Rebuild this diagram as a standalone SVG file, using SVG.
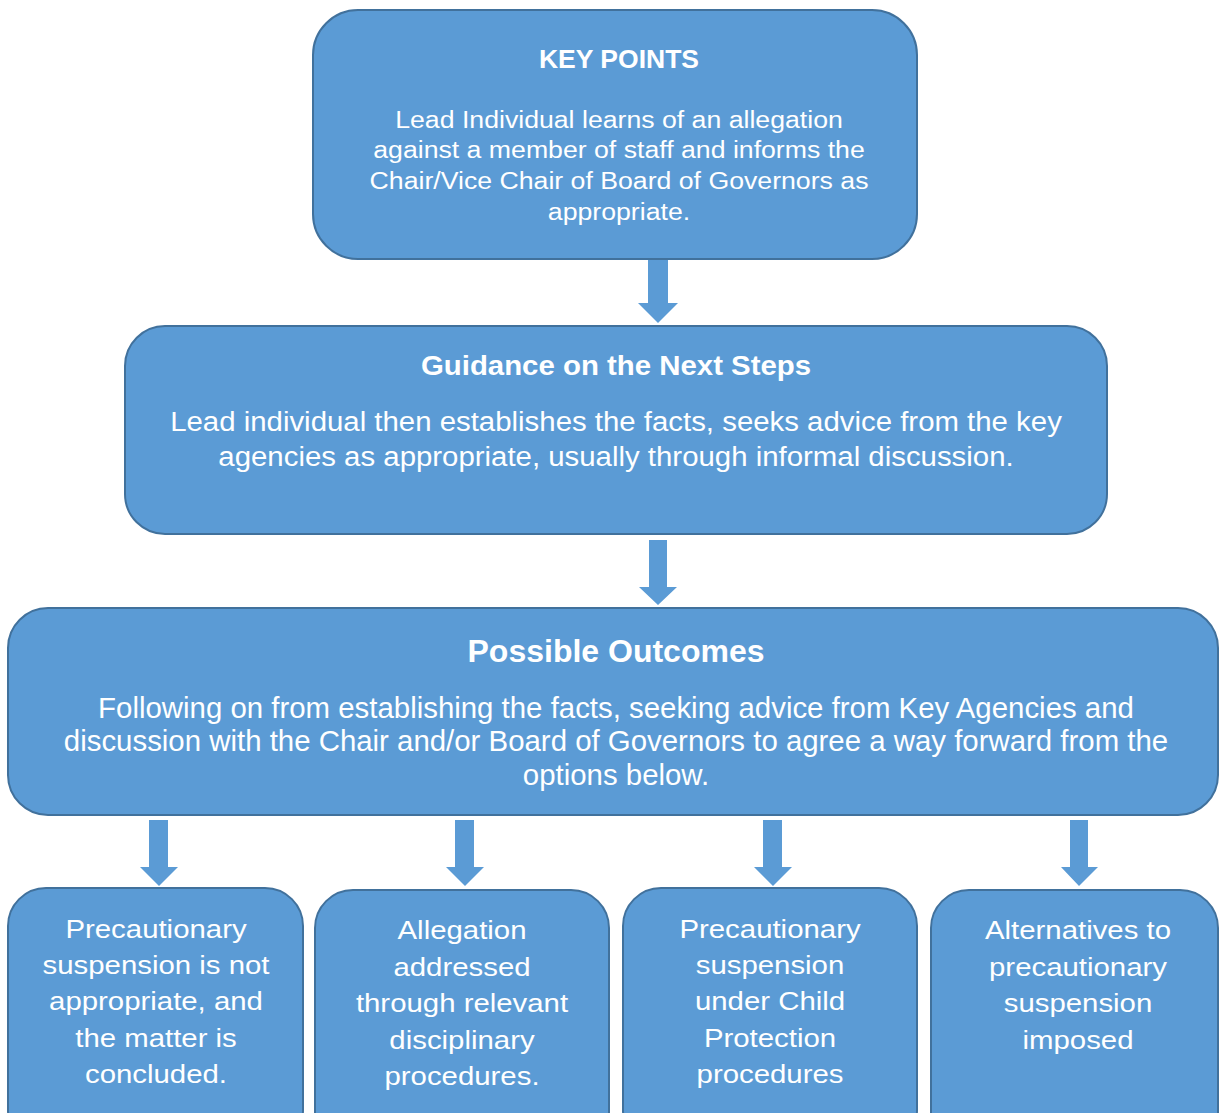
<svg xmlns="http://www.w3.org/2000/svg" width="1219" height="1113" viewBox="0 0 1219 1113">
<style>
.box{fill:#5B9BD5;stroke:#41719C;stroke-width:2}
.arr{fill:#5B9BD5}
text{font-family:"Liberation Sans",Arial,sans-serif;fill:#fff;text-anchor:middle}
.kp{font-size:23px}
.g{font-size:28px}
.o{font-size:29.4px}
.s{font-size:25px}
.b{font-weight:bold}
</style>
<rect width="1219" height="1113" fill="#fff"/>
<g id="connectors">
<polygon class="arr" points="648,259 668,259 668,303 678,303 658,323 638,303 648,303"/>
<polygon class="arr" points="649,540 667,540 667,587 677,587 658,605 639,587 649,587"/>
<polygon class="arr" points="149,820 168,820 168,867 178,867 159,886 140,867 149,867"/>
<polygon class="arr" points="455,820 474,820 474,867 484,867 465,886 446,867 455,867"/>
<polygon class="arr" points="763,820 782,820 782,867 792,867 773,886 754,867 763,867"/>
<polygon class="arr" points="1070,820 1088,820 1088,867 1098,867 1079,886 1061,867 1070,867"/>
</g>
<g id="keypoints">
<rect class="box" x="313" y="10" width="604" height="249" rx="45"/>
<text class="b" style="font-size:26.5px" x="619" y="68">KEY POINTS</text>
<g transform="translate(619 0) scale(1.16 1)">
<text class="kp" x="0" y="128">Lead Individual learns of an allegation</text>
<text class="kp" x="0" y="158">against a member of staff and informs the</text>
<text class="kp" x="0" y="189">Chair/Vice Chair of Board of Governors as</text>
<text class="kp" x="0" y="220">appropriate.</text>
</g>
</g>
<g id="guidance">
<rect class="box" x="125" y="326" width="982" height="208" rx="40"/>
<g transform="translate(616 0) scale(1.05 1)">
<text class="g b" x="0" y="375">Guidance on the Next Steps</text>
<text class="g" x="0" y="431">Lead individual then establishes the facts, seeks advice from the key</text>
<text class="g" x="0" y="466">agencies as appropriate, usually through informal discussion.</text>
</g>
</g>
<g id="outcomes">
<rect class="box" x="8" y="608" width="1210" height="207" rx="40"/>
<text class="b" style="font-size:32px" x="616" y="662">Possible Outcomes</text>
<text class="o" x="616" y="718">Following on from establishing the facts, seeking advice from Key Agencies and</text>
<text class="o" x="616" y="751">discussion with the Chair and/or Board of Governors to agree a way forward from the</text>
<text class="o" x="616" y="785">options below.</text>
</g>
<g id="option1">
<rect class="box" x="8" y="888" width="295" height="260" rx="38"/>
<g transform="translate(156 0) scale(1.175 1)">
<text class="s" x="0" y="938">Precautionary</text>
<text class="s" x="0" y="974">suspension is not</text>
<text class="s" x="0" y="1010">appropriate, and</text>
<text class="s" x="0" y="1047">the matter is</text>
<text class="s" x="0" y="1083">concluded.</text>
</g>
</g>
<g id="option2">
<rect class="box" x="315" y="890" width="294" height="260" rx="38"/>
<g transform="translate(462 0) scale(1.175 1)">
<text class="s" x="0" y="939">Allegation</text>
<text class="s" x="0" y="976">addressed</text>
<text class="s" x="0" y="1012">through relevant</text>
<text class="s" x="0" y="1049">disciplinary</text>
<text class="s" x="0" y="1085">procedures.</text>
</g>
</g>
<g id="option3">
<rect class="box" x="623" y="888" width="294" height="260" rx="38"/>
<g transform="translate(770 0) scale(1.175 1)">
<text class="s" x="0" y="938">Precautionary</text>
<text class="s" x="0" y="974">suspension</text>
<text class="s" x="0" y="1010">under Child</text>
<text class="s" x="0" y="1047">Protection</text>
<text class="s" x="0" y="1083">procedures</text>
</g>
</g>
<g id="option4">
<rect class="box" x="931" y="890" width="287" height="260" rx="38"/>
<g transform="translate(1078 0) scale(1.175 1)">
<text class="s" x="0" y="939">Alternatives to</text>
<text class="s" x="0" y="976">precautionary</text>
<text class="s" x="0" y="1012">suspension</text>
<text class="s" x="0" y="1049">imposed</text>
</g>
</g>
</svg>
